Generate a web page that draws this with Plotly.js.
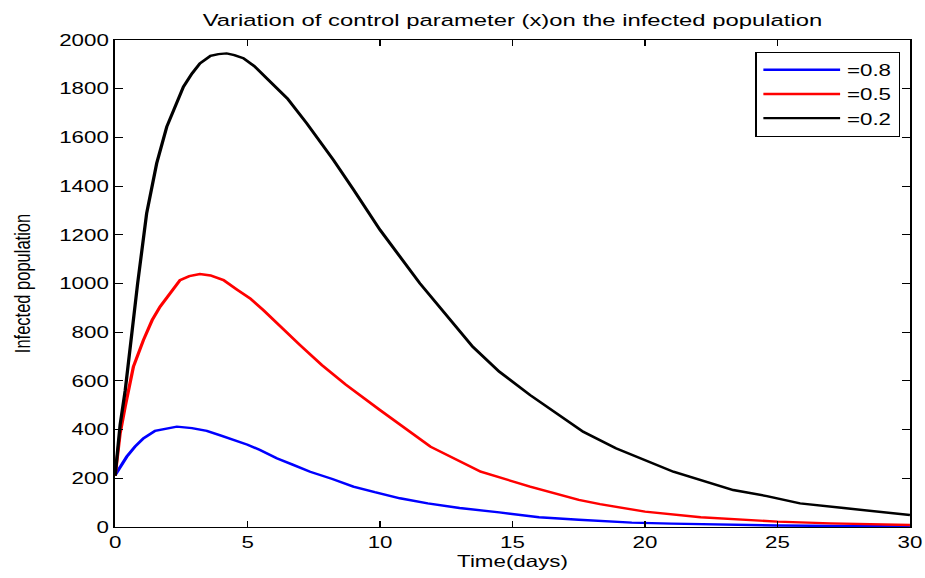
<!DOCTYPE html>
<html>
<head>
<meta charset="utf-8">
<script src="https://cdn.plot.ly/plotly-3.0.1.min.js"></script>
<style>
html,body{margin:0;padding:0;background:#fff;overflow:hidden;}
#wrap{width:925px;height:578px;overflow:hidden;}
#chart{width:675px;height:578px;transform:scaleX(1.3704);transform-origin:0 0;}
</style>
</head>
<body>
<div id="wrap"><div id="chart"></div></div>
<script>
var seriesNames = ["=0.8", "=0.5", "=0.2"];
var seriesColors = ["#0000ff", "#ff0000", "#000000"];

var tBlue = [0, 0.2, 0.44, 0.75, 1.07, 1.51, 1.9, 2.33, 2.9, 3.46, 4.0, 4.47, 5.0, 5.47, 6.1, 6.7, 7.36, 8.2, 8.99, 9.8, 10.75, 11.8, 13, 14.5, 16, 17.5, 19.5, 21, 23, 25, 27.5, 30];
var yBlue = [213, 250, 289, 330, 364, 395, 404, 412, 406, 395, 375, 357, 338, 316, 282, 256, 227, 197, 166, 143, 118, 97, 78, 60, 40, 30, 18, 14, 9, 6, 4, 2];

var tRed = [0, 0.1, 0.19, 0.38, 0.69, 1.07, 1.4, 1.7, 2.1, 2.45, 2.8, 3.2, 3.6, 4.09, 4.6, 5.09, 5.6, 6.1, 6.98, 7.8, 8.7, 10, 11.9, 13.8, 15.66, 17.5, 18.3, 20, 22.1, 25, 27, 30];
var yRed = [210, 300, 385, 494, 658, 768, 850, 905, 965, 1014, 1030, 1039, 1033, 1014, 975, 939, 890, 837, 747, 665, 585, 480, 330, 227, 166, 111, 94, 63, 40, 22, 15, 8];

var tBlack = [0, 0.1, 0.19, 0.38, 0.6, 0.85, 1.19, 1.57, 1.95, 2.27, 2.58, 2.9, 3.2, 3.6, 3.9, 4.21, 4.5, 4.84, 5.25, 5.72, 6.5, 7.23, 8.24, 9.0, 10, 11.5, 12.5, 13.5, 14.5, 15.66, 17.67, 18.9, 21.07, 22.2, 23.33, 24.6, 25.85, 27.5, 29, 30];
var yBlack = [210, 320, 420, 560, 780, 1000, 1288, 1494, 1644, 1730, 1808, 1862, 1904, 1935, 1942, 1945, 1938, 1925, 1893, 1843, 1760, 1658, 1507, 1385, 1220, 1001, 870, 740, 638, 542, 391, 323, 227, 190, 152, 127, 97, 78, 60, 49];

var xTicks = [0, 5, 10, 15, 20, 25, 30];
var yTicks = [0, 200, 400, 600, 800, 1000, 1200, 1400, 1600, 1800, 2000];

var xs = [tBlue, tRed, tBlack];
var ys = [yBlue, yRed, yBlack];
var traces = [];
for (var i = 0; i < 3; i++) {
  traces.push({
    x: xs[i], y: ys[i], type: "scatter", mode: "lines",
    name: seriesNames[i],
    line: {color: seriesColors[i], width: 2.4}
  });
}

var font = "Liberation Sans, Arial, sans-serif";
var layout = {
  width: 675, height: 578,
  margin: {l: 84, r: 10.9, t: 40, b: 51},
  paper_bgcolor: "#ffffff", plot_bgcolor: "#ffffff",
  showlegend: true,
  title: {text: "Variation of control parameter (x)on the infected population",
          font: {family: font, size: 17.4, color: "#000"}, x: 0.554, xanchor: "center", y: 0.965, yanchor: "middle"},
  xaxis: {
    range: [0, 30], tickvals: xTicks, ticktext: xTicks.map(String),
    ticks: "inside", ticklen: 6, tickwidth: 1, tickcolor: "#000",
    showline: true, linecolor: "#000", linewidth: 1.3, mirror: "ticks",
    showgrid: false, zeroline: false,
    tickfont: {family: font, size: 16.3, color: "#000"},
    title: {text: "Time(days)", font: {family: font, size: 16.3, color: "#000"}, standoff: 5}
  },
  yaxis: {
    range: [0, 2000], tickvals: yTicks, ticktext: yTicks.map(String),
    ticks: "inside", ticklen: 5.6, tickwidth: 1, tickcolor: "#000",
    showline: true, linecolor: "#000", linewidth: 1.3, mirror: "ticks",
    showgrid: false, zeroline: false,
    tickfont: {family: font, size: 16.3, color: "#000"},
    title: {text: "Infected population", font: {family: font, size: 16.5, color: "#000"}, standoff: 16}
  },
  legend: {
    x: 0.988, xanchor: "right", y: 0.976, yanchor: "top",
    bgcolor: "#ffffff", bordercolor: "#000", borderwidth: 1,
    font: {family: font, size: 16.3, color: "#000"},
    itemwidth: 56, tracegroupgap: 0
  }
};

Plotly.newPlot("chart", traces, layout, {displayModeBar: false, staticPlot: true});
</script>
</body>
</html>
